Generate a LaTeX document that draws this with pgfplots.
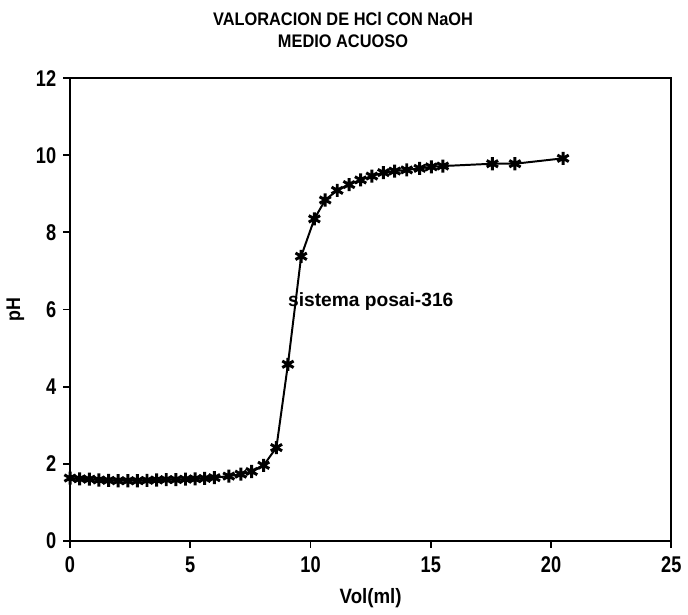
\documentclass[border=0pt]{standalone}
\usepackage{pgfplots}
\pgfplotsset{compat=1.18}
\usepackage{fontspec}
\setmainfont{Liberation Sans}
\newfontfamily\condfont{Liberation Sans}[FakeStretch=0.8]
\newfontfamily\semicond{Liberation Sans}[FakeStretch=0.9]

\begin{document}
\begin{tikzpicture}
\begin{axis}[
  name=main,
  scale only axis,
  width=304pt, height=234pt,
  xmin=0, xmax=25, ymin=0, ymax=12,
  xtick={0,5,10,15,20,25},
  ytick={0,2,4,6,8,10,12},
  tick align=outside,
  xtick pos=bottom, ytick pos=left,
  major tick length=3.5pt,
  axis line style={line width=1pt},
  every tick/.style={black, line width=0.9pt},
  tick label style={font=\condfont\bfseries\fontsize{11.5}{13}\selectfont},
  xticklabel style={yshift=-1pt},
  /pgf/number format/assume math mode=true,
  xlabel={Vol(ml)},
  ylabel={pH},
  xlabel style={font=\semicond\bfseries\fontsize{10.5}{12}\selectfont, yshift=-1pt},
  ylabel style={font=\semicond\bfseries\fontsize{10}{12}\selectfont, yshift=-1pt},
  clip=false,
]
\addplot[black, line width=1pt, mark=asterisk, mark size=3.3pt,
         every mark/.append style={line width=1.5pt}]
  coordinates {
  (0,1.63) (0.4,1.61) (0.8,1.60) (1.2,1.58) (1.6,1.57) (2.0,1.56)
  (2.4,1.56) (2.8,1.56) (3.2,1.57) (3.6,1.58) (4.0,1.59) (4.4,1.59)
  (4.8,1.60) (5.2,1.61) (5.6,1.62) (6.0,1.64) (6.6,1.68) (7.1,1.73)
  (7.55,1.80) (8.05,1.96) (8.58,2.42) (9.06,4.58) (9.61,7.38)
  (10.16,8.35) (10.61,8.84) (11.11,9.09) (11.6,9.24) (12.08,9.36)
  (12.55,9.46) (13.03,9.55) (13.5,9.59) (14.0,9.62) (14.54,9.66)
  (15.02,9.70) (15.5,9.72) (17.56,9.78) (18.5,9.78) (20.5,9.92)
  };
\node[anchor=west, inner sep=0pt, font=\bfseries\fontsize{9.7}{11}\selectfont]
  at (axis cs:9.05,6.2) {sistema posai-316};
\node[font=\semicond\bfseries\fontsize{9.2}{10.8}\selectfont, align=center, anchor=south]
  at ([yshift=12pt]rel axis cs:0.454,1) {VALORACION DE HCl CON NaOH\\MEDIO ACUOSO};
\end{axis}
% fixed page frame around the axis
\path (main.south west) ++(-34pt,-32.5pt) rectangle ([shift={(6pt,39.5pt)}]main.north east);
\end{tikzpicture}
\end{document}
